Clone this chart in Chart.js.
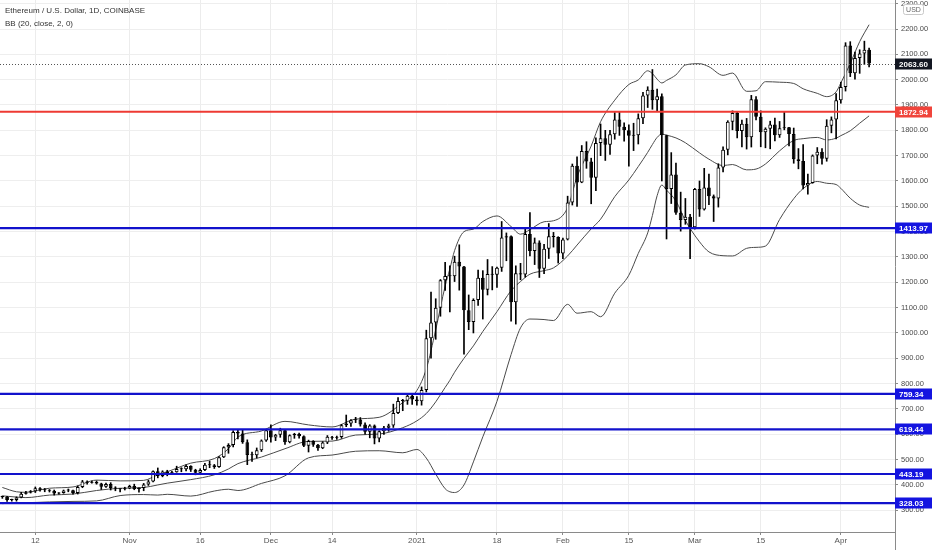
<!DOCTYPE html>
<html>
<head>
<meta charset="utf-8">
<script src="https://cdn.jsdelivr.net/npm/chart.js@4.4.1/dist/chart.umd.min.js"></script>
<style>
  html, body { margin: 0; padding: 0; background: #fff; }
  #wrap { width: 932px; height: 550px; position: relative; }
</style>
</head>
<body>
<div id="wrap"><canvas id="ethChart"></canvas></div>
<script>
// ETH / USD daily candles (Coinbase), 5 Oct 2020 .. 7 Apr 2021
const firstDay = Date.UTC(2020, 9, 5);
const emptyDaysAfter = 5;

const opens = [
  352,353,341,341,350,365,370,375,387,381, 379,377,366,368,378,379,368,392,414,409,
  412,406,393,404,388,386,383,386,396,384, 388,402,414,454,435,453,444,450,463,462,
  475,460,448,459,480,478,471,509,549,558, 609,603,569,518,517,537,575,616,587,598,
  616,569,596,601,592,555,573,559,545,568, 590,586,589,636,643,655,658,639,610,635,
  583,612,626,635,684,731,732,752,737,730, 775,979,1041,1100,1208,1225,1224,1281,1262,1090,
  1043,1130,1218,1171,1233,1230,1257,1377,1382,1121, 1236,1231,1391,1324,1357,1253,1332,1382,1379,1314,
  1369,1515,1660,1594,1718,1677,1613,1750,1769,1743, 1784,1843,1814,1800,1779,1781,1848,1937,1960,1919,
  1935,1781,1568,1626,1475,1446,1459,1417,1568,1487, 1574,1540,1531,1653,1723,1834,1868,1797,1826,1773,
  1923,1854,1792,1806,1823,1781,1808,1812,1785,1686, 1679,1582,1592,1701,1715,1688,1818,1843,1919,1971,
  2135,2025,2086,2103,2118
];
const highs = [
  356,355,344,353,371,375,378,392,390,386, 382,380,370,380,384,380,396,418,416,415,
  416,407,407,409,393,386,391,399,403,389, 406,419,456,467,456,458,454,474,468,479,
  476,462,464,485,494,481,512,551,563,614, 620,617,578,530,546,578,617,637,600,624,
  620,598,604,605,594,577,575,560,571,595, 592,593,639,676,658,667,666,645,638,637,
  614,631,640,719,745,738,755,754,749,787, 1011,1161,1135,1211,1279,1265,1303,1348,1263,1150,
  1135,1248,1246,1290,1262,1260,1440,1395,1383,1265, 1275,1410,1475,1375,1364,1350,1432,1397,1380,1375,
  1540,1667,1695,1740,1755,1690,1770,1825,1800,1800, 1870,1874,1830,1822,1828,1865,1950,1972,2040,1963,
  1944,1781,1712,1671,1556,1531,1468,1571,1600,1650, 1627,1545,1668,1735,1838,1877,1873,1840,1847,1938,
  1933,1877,1810,1836,1848,1835,1871,1812,1809,1728, 1744,1627,1703,1732,1728,1842,1853,1945,1990,2146,
  2150,2109,2118,2152,2125
];
const lows = [
  347,335,336,336,349,364,368,370,375,373, 372,360,364,367,373,364,364,389,403,407,
  403,382,390,380,377,372,380,385,381,371, 377,398,412,428,432,436,441,450,452,455,
  453,440,443,456,468,465,469,508,525,550, 582,564,480,493,507,532,572,569,575,588,
  560,566,584,585,551,530,552,536,543,563, 580,580,584,630,631,646,632,600,586,562,
  570,599,612,627,681,693,718,718,715,715, 767,900,975,1066,1168,1083,1203,1169,916,1013,
  1000,1109,1055,1150,1170,1180,1243,1285,1047,1035, 1210,1220,1304,1270,1219,1234,1294,1339,1276,1293,
  1367,1505,1500,1593,1650,1510,1562,1700,1681,1705, 1765,1780,1757,1658,1720,1746,1826,1890,1883,1874,
  1600,1371,1511,1468,1402,1429,1293,1410,1460,1485, 1506,1440,1497,1636,1703,1802,1770,1734,1726,1734,
  1841,1735,1731,1727,1758,1772,1802,1738,1670,1648, 1569,1548,1591,1668,1666,1678,1790,1766,1907,1955,
  2012,2002,2025,2060,2050
];
const closes = [
  353,341,341,350,365,370,375,387,381,379, 377,366,368,378,379,368,392,414,409,412,
  406,393,404,388,386,383,386,396,384,388, 402,414,454,435,453,444,450,463,462,475,
  460,448,459,480,478,471,509,549,558,609, 603,569,518,517,537,575,616,587,598,616,
  569,596,601,592,555,573,559,545,568,590, 586,589,636,643,655,658,639,610,635,583,
  612,626,635,684,731,732,752,737,730,775, 979,1041,1100,1208,1225,1224,1281,1262,1090,1043,
  1130,1218,1171,1233,1230,1257,1377,1382,1121,1236, 1231,1391,1324,1357,1253,1332,1382,1379,1314,1369,
  1515,1660,1594,1718,1677,1613,1750,1769,1743,1784, 1843,1814,1800,1779,1781,1848,1937,1960,1919,1935,
  1781,1568,1626,1475,1446,1459,1417,1568,1487,1574, 1540,1531,1653,1723,1834,1868,1797,1826,1773,1923,
  1854,1792,1806,1823,1781,1808,1812,1785,1686,1679, 1582,1592,1701,1715,1688,1818,1843,1919,1971,2135,
  2025,2086,2103,2118,2063.6
];

// Bollinger bands (20, close, 2) at these day indexes
const bbDays = [0,3,5,10,15,20,25,30,33,35, 40,45,48,50,55,60,65,70,75,80,
  85,88,90,92,94,95,96,98,100,102, 105,108,110,112,115,117,120,122,125,127,
  130,133,135,137,138,139,140,141,143,145, 148,150,153,155,158,160,162,165,168,170,
  173,175,177,178,180,182,184];
const bbUpper = [390,373,371,387,392,419,416,418,440,452, 486,504,543,589,613,651,637,629,660,667,
  725,773,858,1013,1185,1253,1325,1400,1410,1440, 1462,1420,1390,1408,1439,1443,1494,1616,1738,1834,
  1919,1981,1999,2035,2024,2002,1987,1997,2019,2058, 2063,2051,2017,2026,1954,1956,1992,1990,1985,1964,
  1946,1933,1952,1987,2064,2150,2217];
const bbMiddle = [357,352,350,360,364,378,387,390,400,407, 421,440,463,484,510,543,572,573,597,601,
  626,653,682,728,785,813,845,900,949,1006, 1084,1167,1203,1232,1246,1257,1304,1347,1411,1449,
  1538,1604,1657,1713,1744,1772,1785,1781,1770,1751, 1711,1686,1661,1665,1644,1647,1667,1719,1760,1767,
  1772,1762,1769,1779,1798,1828,1857];
const bbLower = [326,330,330,333,335,337,358,362,360,363, 356,376,383,378,406,436,507,518,533,535,
  527,540,506,443,385,373,370,400,491,590, 730,915,1020,1055,1053,1049,1113,1078,1084,1064,
  1157,1228,1314,1395,1464,1542,1584,1564,1521,1444, 1360,1320,1305,1304,1334,1338,1343,1448,1530,1570,
  1598,1591,1586,1571,1532,1505,1496];

// horizontal levels
const levels = [1872.94, 1413.97, 759.34, 619.44, 443.19, 328.03];
const levelColors = ['#ee3a33', '#1212cc', '#1212cc', '#1212cc', '#1212cc', '#1212cc'];
const lastPrice = 2063.60;

// price axis ticks
const yTickValues = [300,400,500,600,700,800,900,1000,1100,1200,1300,1400,1500,1600,1700,1800,1900,2000,2100,2200,2300];

// x axis labels
const tickDates = ['2020-10-12','2020-11-01','2020-11-16','2020-12-01','2020-12-14','2021-01-01',
  '2021-01-18','2021-02-01','2021-02-15','2021-03-01','2021-03-15','2021-04-01'];
const tickText = ['12','Nov','16','Dec','14','2021','18','Feb','15','Mar','15','Apr'];

const FONT = "'Liberation Sans', sans-serif";

const labels = [];
for (let i = 0; i < opens.length + emptyDaysAfter; i++) {
  labels.push(new Date(firstDay + i * 864e5).toISOString().slice(0, 10));
}
const tickAt = {};
tickDates.forEach((d, k) => { tickAt[labels.indexOf(d)] = tickText[k]; });

const bodies = opens.map((o, i) => [o, closes[i]]);
const bodyColors = opens.map((o, i) => closes[i] >= o ? '#ffffff' : '#000000');
const wicks = lows.map((l, i) => [l, highs[i]]);

function band(vals) {
  return bbDays.map((d, k) => ({ x: labels[d], y: vals[k] }));
}
const bandStyle = {
  type: 'line', borderColor: '#4a4a4a', borderWidth: 1, pointRadius: 0,
  cubicInterpolationMode: 'monotone', fill: false, order: 2
};

const overlay = {
  id: 'overlay',
  afterDatasetsDraw(chart) {
    const { ctx, chartArea: a, scales: { y } } = chart;
    ctx.save();
    // last price dotted line
    const py = Math.round(y.getPixelForValue(lastPrice)) + 0.5;
    ctx.strokeStyle = '#555';
    ctx.lineWidth = 1;
    ctx.setLineDash([1, 2]);
    ctx.beginPath(); ctx.moveTo(a.left, py); ctx.lineTo(a.right, py); ctx.stroke();
    ctx.setLineDash([]);
    levels.forEach((v, k) => {
      const ly = y.getPixelForValue(v);
      ctx.strokeStyle = levelColors[k];
      ctx.lineWidth = k === 0 ? 2 : 2.2;
      ctx.beginPath(); ctx.moveTo(a.left, ly); ctx.lineTo(a.right, ly); ctx.stroke();
    });
    ctx.restore();
  },
  afterDraw(chart) {
    const { ctx, chartArea: a, scales: { y } } = chart;
    ctx.save();
    // axis line continues below the time axis
    ctx.strokeStyle = '#8a8a8a';
    ctx.lineWidth = 1;
    ctx.beginPath(); ctx.moveTo(a.right + 0.5, a.bottom); ctx.lineTo(a.right + 0.5, 550); ctx.stroke();

    function tag(v, bg, text) {
      const ty = Math.round(y.getPixelForValue(v));
      ctx.fillStyle = bg;
      ctx.fillRect(a.right, ty - 5.5, 37, 11);
      ctx.fillStyle = '#fff';
      ctx.font = 'bold 8px ' + FONT;
      ctx.textAlign = 'left';
      ctx.textBaseline = 'middle';
      ctx.fillText(text, a.right + 4, ty + 0.5);
    }
    tag(lastPrice, '#131722', lastPrice.toFixed(2));
    levels.forEach((v, k) => tag(v, k === 0 ? '#f0443b' : '#1414e0', v.toFixed(2)));

    // currency badge
    ctx.fillStyle = '#fff';
    ctx.strokeStyle = '#c8c8c8';
    ctx.beginPath();
    ctx.roundRect(a.right + 8.5, 4.5, 20, 10, 2);
    ctx.fill(); ctx.stroke();
    ctx.fillStyle = '#666';
    ctx.font = '7px ' + FONT;
    ctx.textAlign = 'center';
    ctx.textBaseline = 'middle';
    ctx.fillText('USD', a.right + 18.5, 10);

    // title lines
    ctx.fillStyle = '#333';
    ctx.font = '8px ' + FONT;
    ctx.textAlign = 'left';
    ctx.fillText('Ethereum / U.S. Dollar, 1D, COINBASE', 5, 11);
    ctx.fillText('BB (20, close, 2, 0)', 5, 23.5);
    ctx.restore();
  }
};

new Chart(document.getElementById('ethChart'), {
  type: 'bar',
  data: {
    labels: labels,
    datasets: [
      { data: bodies, backgroundColor: bodyColors, borderColor: '#000', borderWidth: 1,
        borderSkipped: false, grouped: false, barPercentage: 0.8, categoryPercentage: 1,
        minBarLength: 1, order: 0 },
      { data: wicks, backgroundColor: '#000', barThickness: 1, grouped: false, order: 1 },
      Object.assign({ data: band(bbUpper) }, bandStyle),
      Object.assign({ data: band(bbMiddle) }, bandStyle),
      Object.assign({ data: band(bbLower) }, bandStyle)
    ]
  },
  options: {
    animation: false,
    responsive: true,
    maintainAspectRatio: false,
    layout: { padding: 0, autoPadding: false },
    plugins: { legend: { display: false }, tooltip: { enabled: false } },
    scales: {
      x: {
        type: 'category',
        offset: true,
        grid: {
          offset: false,
          color: c => tickAt[c.index] !== undefined ? '#ececec' : 'rgba(0,0,0,0)',
          tickColor: c => tickAt[c.index] !== undefined ? '#8a8a8a' : 'rgba(0,0,0,0)',
          tickLength: 3
        },
        border: { color: '#8a8a8a' },
        ticks: {
          autoSkip: false, maxRotation: 0, minRotation: 0, padding: 1,
          color: '#555', font: { family: FONT, size: 8 },
          callback: (v, i) => tickAt[i] !== undefined ? tickAt[i] : ''
        },
        afterFit: s => { s.height = 18; s.paddingLeft = 0; s.paddingRight = 0; }
      },
      y: {
        position: 'right',
        min: 214.2,
        max: 2314.5,
        grid: { color: '#eeeeee', tickColor: '#8a8a8a', tickLength: 3 },
        border: { color: '#8a8a8a' },
        afterBuildTicks: s => { s.ticks = yTickValues.map(v => ({ value: v })); },
        ticks: {
          padding: 3,
          color: '#4a4a4a', font: { family: FONT, size: 7.5 },
          callback: v => Number(v).toFixed(2)
        },
        afterFit: s => { s.width = 37; s.paddingTop = 0; s.paddingBottom = 0; }
      }
    }
  },
  plugins: [overlay]
});
</script>
</body>
</html>
